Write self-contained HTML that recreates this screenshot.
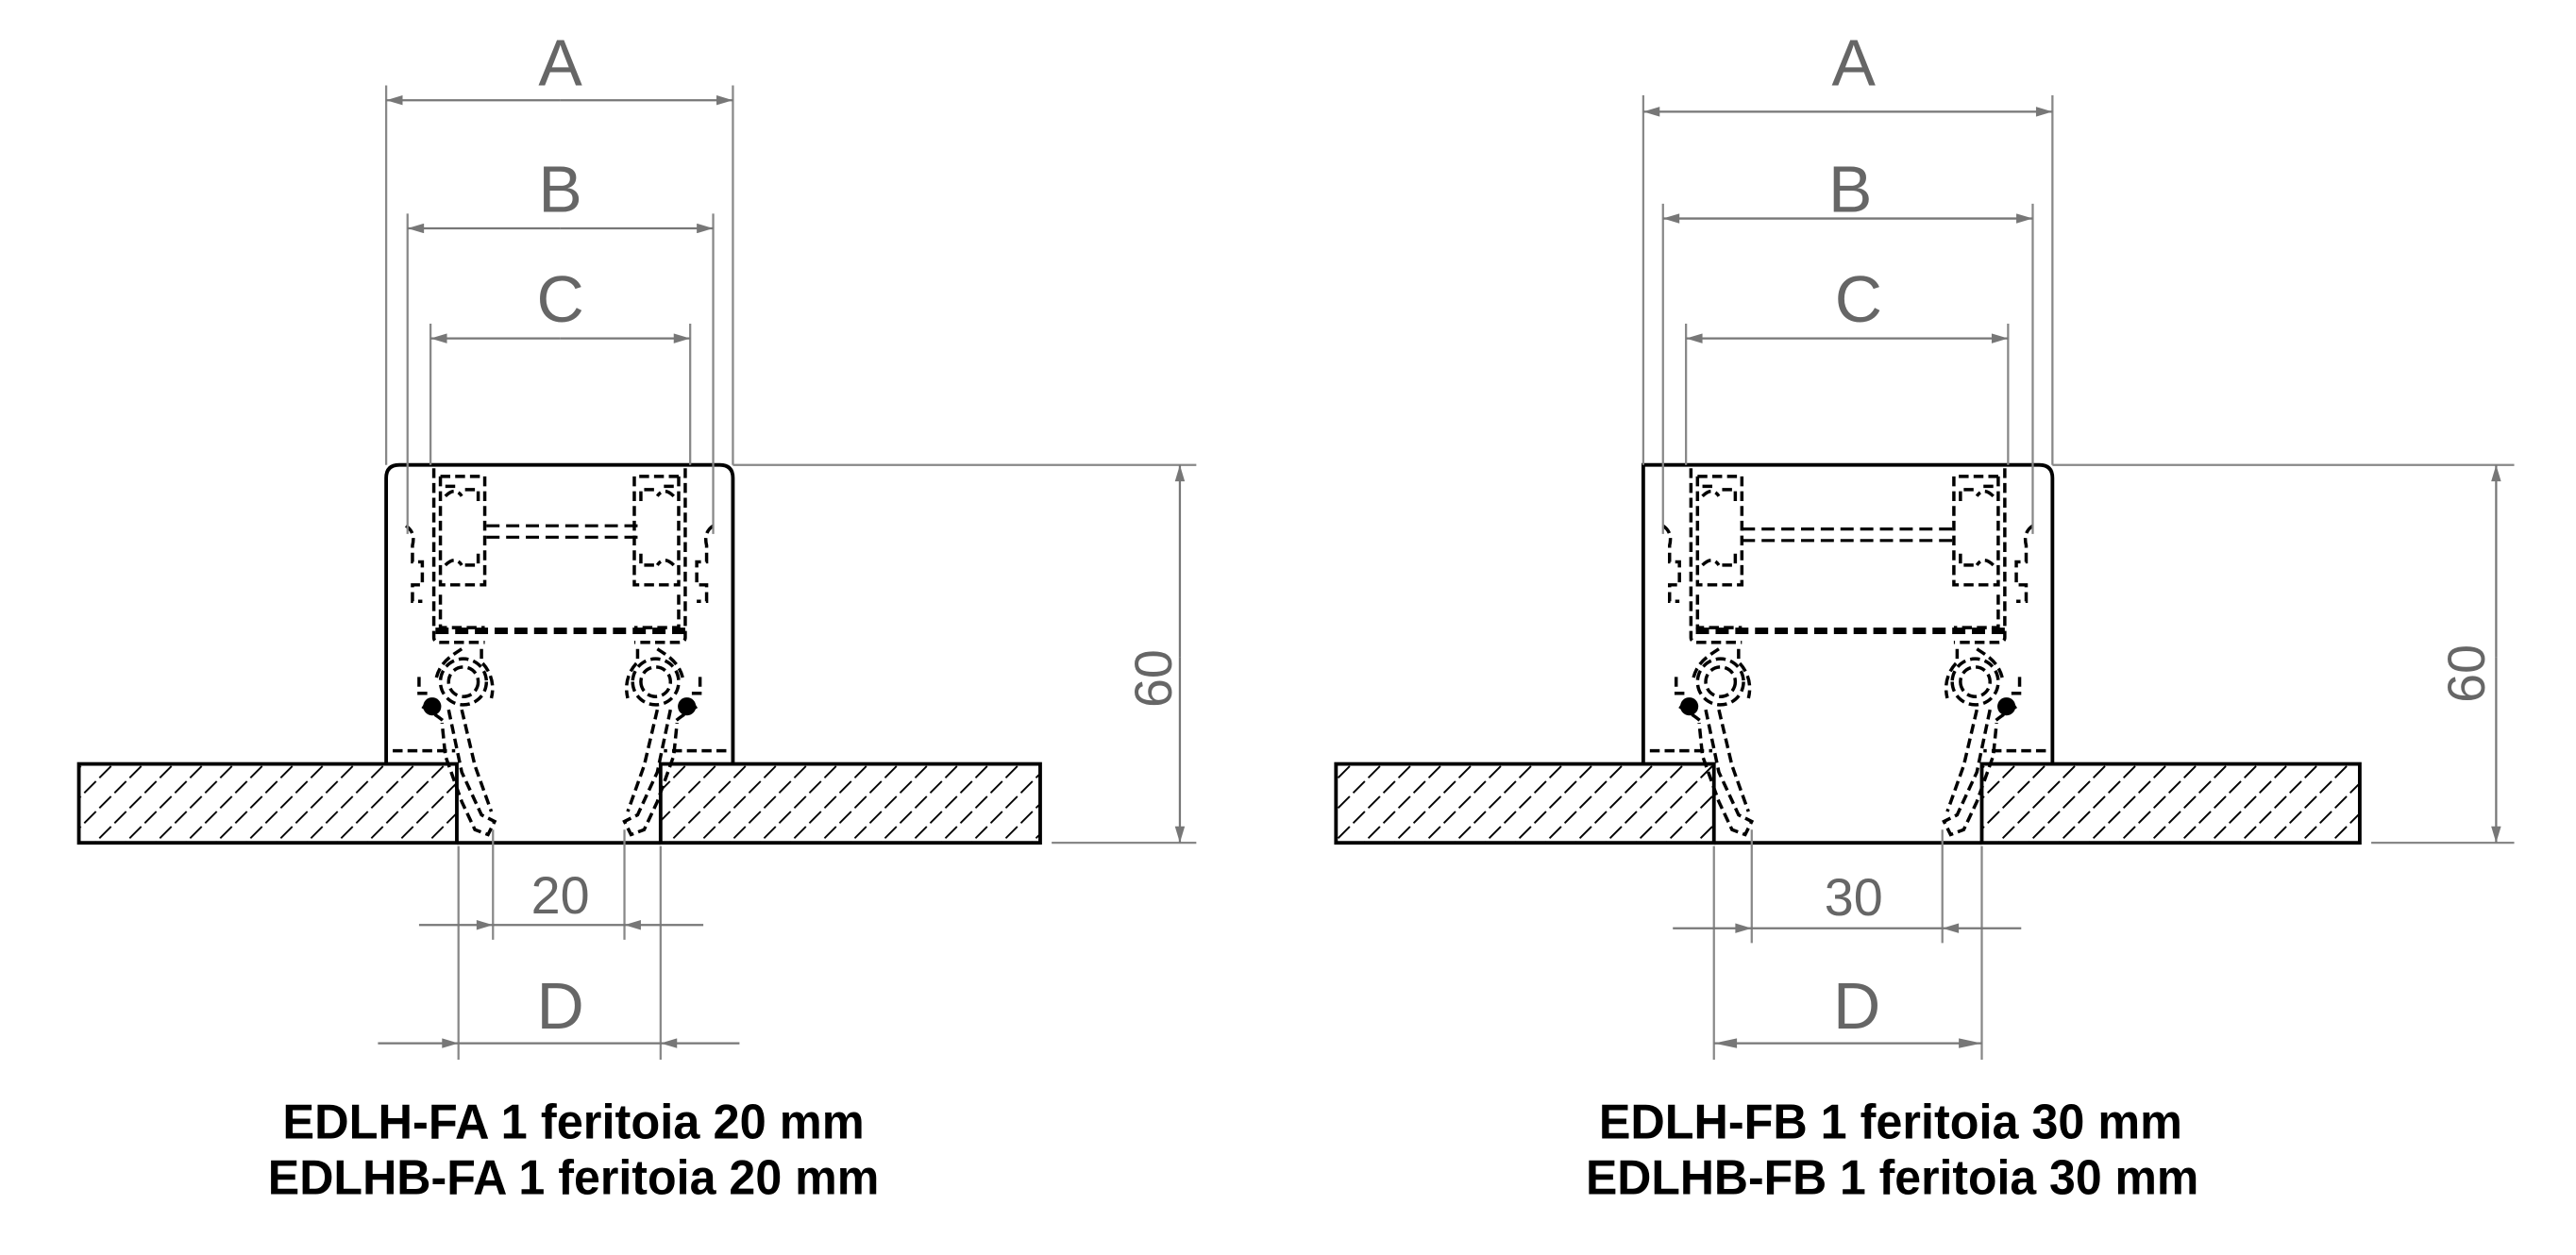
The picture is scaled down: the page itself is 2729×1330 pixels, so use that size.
<!DOCTYPE html>
<html><head><meta charset="utf-8"><style>html,body{margin:0;padding:0;background:#fff}svg{display:block}</style></head>
<body>
<svg xmlns="http://www.w3.org/2000/svg" width="2729" height="1330" viewBox="0 0 1567.6 763.9" preserveAspectRatio="none">
<defs>
<pattern id="h" patternUnits="userSpaceOnUse" width="13" height="13" patternTransform="rotate(45)">
<line x1="0" y1="0" x2="0" y2="13" stroke="#000" stroke-width="2.2" stroke-dasharray="6 3"/>
</pattern>
<marker id="ar" viewBox="0 0 10 6" refX="10" refY="3" markerWidth="14" markerHeight="6" markerUnits="userSpaceOnUse" orient="auto">
<path d="M0,0 L10,3 L0,6 z" fill="#777"/></marker>
<g id="prof" fill="none" stroke="#000" stroke-width="2" stroke-dasharray="6 3">
<path d="M29,285 V388 Q29,391 33,391 H60"/>
<path d="M33,290 V356 H60 V290 H33"/>
<path d="M36,296 h8 M36,302 q6,-6 10,0 M48,298 h8 v8 M48,344 h8 v-8 M36,344 q6,-6 10,0"/>
<path d="M33,362 V382 H60"/>
<path d="M12,320 q6,4 4,12 v10 h6 v14 h-6 v10 h6"/>
<path d="M46,395 c-6,4 -14,8 -16,20 M58,395 v8 c6,6 8,14 6,22"/>
<circle cx="47" cy="415" r="14"/>
<circle cx="47" cy="415" r="9"/>
<path d="M20,412 v10 h6 M22,430 c6,4 10,6 14,10"/>
<path d="M38,432 L46,470 L58,496 L66,500 L62,508 L54,505 L46,488 L36,460 L34,440"/>
<path d="M46,432 L54,466 L64,494"/>
<path d="M4,457 H42"/>
</g>
</defs>
<rect width="1567.6" height="763.9" fill="#fff"/>

<!-- LEFT -->
<g>
<rect x="48" y="465" width="230" height="48" fill="url(#h)" stroke="#000" stroke-width="2.2"/>
<rect x="402" y="465" width="231" height="48" fill="url(#h)" stroke="#000" stroke-width="2.2"/>
<line x1="278" y1="513" x2="402" y2="513" stroke="#000" stroke-width="2.2"/>
<path d="M235,465 V291 Q235,283 243,283 H438 Q446,283 446,291 V465" fill="none" stroke="#000" stroke-width="2.2"/>
<path d="M265,384 H418" stroke="#000" stroke-width="4" stroke-dasharray="8 4"/>
<path d="M296,320 H390 M296,327 H390" stroke="#000" stroke-width="1.8" stroke-dasharray="8 4"/>
<use href="#prof" transform="translate(235,0)"/>
<use href="#prof" transform="translate(446,0) scale(-1,1)"/>
<circle cx="263" cy="430" r="5.5" fill="#000"/>
<circle cx="418" cy="430" r="5.5" fill="#000"/>
<g stroke="#888" stroke-width="1.3" fill="none">
<path d="M235,52 V283 M446,52 V283 M248,130 V325 M434,130 V325 M262,197 V283 M420,197 V283"/>
<path d="M446,283 H728 M640,513 H728"/>
<path d="M300,505 V572 M380,505 V572 M279,515 V645 M402,515 V645"/>
</g>
<g stroke="#777" stroke-width="1.3">
<line x1="341" y1="61" x2="235" y2="61" marker-end="url(#ar)"/><line x1="341" y1="61" x2="446" y2="61" marker-end="url(#ar)"/>
<line x1="341" y1="139" x2="248" y2="139" marker-end="url(#ar)"/><line x1="341" y1="139" x2="434" y2="139" marker-end="url(#ar)"/>
<line x1="341" y1="206" x2="262" y2="206" marker-end="url(#ar)"/><line x1="341" y1="206" x2="420" y2="206" marker-end="url(#ar)"/>
<line x1="718" y1="400" x2="718" y2="283" marker-end="url(#ar)"/><line x1="718" y1="400" x2="718" y2="513" marker-end="url(#ar)"/>
<line x1="255" y1="563" x2="300" y2="563" marker-end="url(#ar)"/><line x1="428" y1="563" x2="380" y2="563" marker-end="url(#ar)"/>
<line x1="300" y1="563" x2="380" y2="563"/>
<line x1="230" y1="635" x2="279" y2="635" marker-end="url(#ar)"/><line x1="450" y1="635" x2="402" y2="635" marker-end="url(#ar)"/>
<line x1="279" y1="635" x2="402" y2="635"/>
</g>
<g fill="#666" font-family="Liberation Sans, sans-serif" text-anchor="middle">
<text x="341" y="52" font-size="40">A</text>
<text x="341" y="129" font-size="40">B</text>
<text x="341" y="196" font-size="40">C</text>
<text x="341" y="626" font-size="40">D</text>
<text x="341" y="556" font-size="32">20</text>
<text x="0" y="0" font-size="32" transform="translate(713,413) rotate(-90)">60</text>
</g>
<g font-family="Liberation Sans Narrow, Liberation Sans, sans-serif" font-weight="bold" font-size="30" fill="#000">
<text x="172" y="693" textLength="354" lengthAdjust="spacingAndGlyphs">EDLH-FA 1 feritoia 20 mm</text>
<text x="163" y="727" textLength="372" lengthAdjust="spacingAndGlyphs">EDLHB-FA 1 feritoia 20 mm</text>
</g>
</g>

<!-- RIGHT -->
<g>
<rect x="813" y="465" width="230" height="48" fill="url(#h)" stroke="#000" stroke-width="2.2"/>
<rect x="1206" y="465" width="230" height="48" fill="url(#h)" stroke="#000" stroke-width="2.2"/>
<line x1="1043" y1="513" x2="1206" y2="513" stroke="#000" stroke-width="2.2"/>
<path d="M1000,465 V283 H1241 Q1249,283 1249,291 V465" fill="none" stroke="#000" stroke-width="2.2"/>
<path d="M1032,384 H1220" stroke="#000" stroke-width="4" stroke-dasharray="8 4"/>
<path d="M1060,322 H1192 M1060,329 H1192" stroke="#000" stroke-width="1.8" stroke-dasharray="8 4"/>
<use href="#prof" transform="translate(1000,0)"/>
<use href="#prof" transform="translate(1249,0) scale(-1,1)"/>
<circle cx="1028" cy="430" r="5.5" fill="#000"/>
<circle cx="1221" cy="430" r="5.5" fill="#000"/>
<g stroke="#888" stroke-width="1.3" fill="none">
<path d="M1000,58 V283 M1249,58 V283 M1012,124 V325 M1237,124 V325 M1026,197 V283 M1222,197 V283"/>
<path d="M1249,283 H1530 M1443,513 H1530"/>
<path d="M1066,505 V574 M1182,505 V574 M1043,515 V645 M1206,515 V645"/>
</g>
<g stroke="#777" stroke-width="1.3">
<line x1="1125" y1="68" x2="1000" y2="68" marker-end="url(#ar)"/><line x1="1125" y1="68" x2="1249" y2="68" marker-end="url(#ar)"/>
<line x1="1125" y1="133" x2="1012" y2="133" marker-end="url(#ar)"/><line x1="1125" y1="133" x2="1237" y2="133" marker-end="url(#ar)"/>
<line x1="1125" y1="206" x2="1026" y2="206" marker-end="url(#ar)"/><line x1="1125" y1="206" x2="1222" y2="206" marker-end="url(#ar)"/>
<line x1="1519" y1="400" x2="1519" y2="283" marker-end="url(#ar)"/><line x1="1519" y1="400" x2="1519" y2="513" marker-end="url(#ar)"/>
<line x1="1018" y1="565" x2="1066" y2="565" marker-end="url(#ar)"/><line x1="1230" y1="565" x2="1182" y2="565" marker-end="url(#ar)"/>
<line x1="1066" y1="565" x2="1182" y2="565"/>
<line x1="1043" y1="635" x2="1206" y2="635"/>
</g>
<path d="M1043,635 l14,-3 v6 z M1206,635 l-14,-3 v6 z" fill="#777"/>
<g fill="#666" font-family="Liberation Sans, sans-serif" text-anchor="middle">
<text x="1128" y="52" font-size="40">A</text>
<text x="1126" y="129" font-size="40">B</text>
<text x="1131" y="196" font-size="40">C</text>
<text x="1130" y="626" font-size="40">D</text>
<text x="1128" y="557" font-size="32">30</text>
<text x="0" y="0" font-size="32" transform="translate(1512,410) rotate(-90)">60</text>
</g>
<g font-family="Liberation Sans Narrow, Liberation Sans, sans-serif" font-weight="bold" font-size="30" fill="#000">
<text x="973" y="693" textLength="355" lengthAdjust="spacingAndGlyphs">EDLH-FB 1 feritoia 30 mm</text>
<text x="965" y="727" textLength="373" lengthAdjust="spacingAndGlyphs">EDLHB-FB 1 feritoia 30 mm</text>
</g>
</g>
</svg>
</body></html>
